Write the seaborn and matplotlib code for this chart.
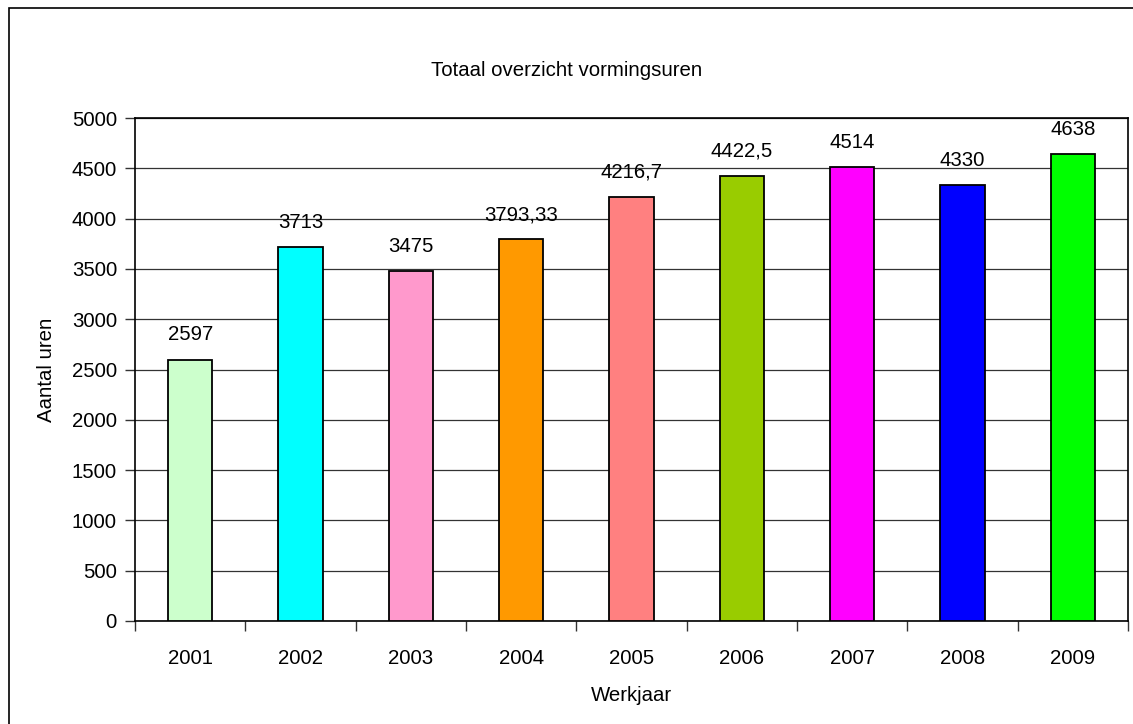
import matplotlib
matplotlib.use("Agg")
import matplotlib.pyplot as plt
import seaborn as sns
import pandas as pd
from matplotlib.patches import Rectangle

# data
jaren = ['2001', '2002', '2003', '2004', '2005', '2006', '2007', '2008', '2009']
uren = [2597, 3713, 3475, 3793.33, 4216.7, 4422.5, 4514, 4330, 4638]
labels = ['2597', '3713', '3475', '3793,33', '4216,7', '4422,5', '4514', '4330', '4638']
kleuren = ['#CCFFCC', '#00FFFF', '#FF99CC', '#FF9900', '#FF8080',
           '#99CC00', '#FF00FF', '#0000FF', '#00FF00']
yticks = [0, 500, 1000, 1500, 2000, 2500, 3000, 3500, 4000, 4500, 5000]

sns.set_style("white", {'text.color': 'black', 'xtick.color': 'black',
                        'ytick.color': 'black', 'axes.labelcolor': 'black'})
plt.rcParams['font.family'] = ['Liberation Sans', 'DejaVu Sans']
fs = 14.7

df = pd.DataFrame({'jaar': jaren, 'uren': uren})

fig = plt.figure(figsize=(11.33, 7.24), dpi=100)
ax = fig.add_axes([135 / 1133, 103 / 724, 993 / 1133, 503 / 724])

sns.barplot(data=df, x='jaar', y='uren', hue='jaar', palette=kleuren,
            legend=False, width=0.4, edgecolor='black', linewidth=1.3,
            saturation=1, ax=ax, zorder=3)

ax.set_ylim(0, 5000)
ax.set_xlim(-0.5, len(jaren) - 0.5)
ax.set_yticks(yticks)
ax.set_yticklabels([str(t) for t in yticks], fontsize=fs)
ax.yaxis.grid(True, color='#333333', linewidth=0.9, zorder=0)
ax.set_axisbelow(True)

# tick marks between the categories, like Excel
ax.set_xticks(range(len(jaren)))
ax.set_xticklabels(jaren, fontsize=fs)
ax.tick_params(axis='x', length=0, pad=20)
ax.set_xticks([i - 0.5 for i in range(len(jaren) + 1)], minor=True)
ax.tick_params(axis='x', which='minor', length=7, width=1, color='#333333',
               direction='out', bottom=True)
ax.tick_params(axis='y', length=7, width=1, color='#333333', left=True,
               direction='out', pad=6)

for s in ax.spines.values():
    s.set_color('black')
    s.set_linewidth(1.2)

for i, (v, t) in enumerate(zip(uren, labels)):
    ax.annotate(t, (i, v), xytext=(0, 11), textcoords='offset points',
                ha='center', va='bottom', fontsize=fs)

ax.set_xlabel('Werkjaar', fontsize=fs, labelpad=13)
ax.set_ylabel('Aantal uren', fontsize=fs, labelpad=11)
fig.text(0.5, 1 - 70 / 724, 'Totaal overzicht vormingsuren', ha='center',
         va='center', fontsize=fs)

# outer chart frame
fig.patches.append(Rectangle((9 / 1133, -0.1), 1.2, 1 - 8 / 724 + 0.1,
                             transform=fig.transFigure, fill=False,
                             edgecolor='black', linewidth=1.2))

fig.savefig('out.png', dpi=100)
